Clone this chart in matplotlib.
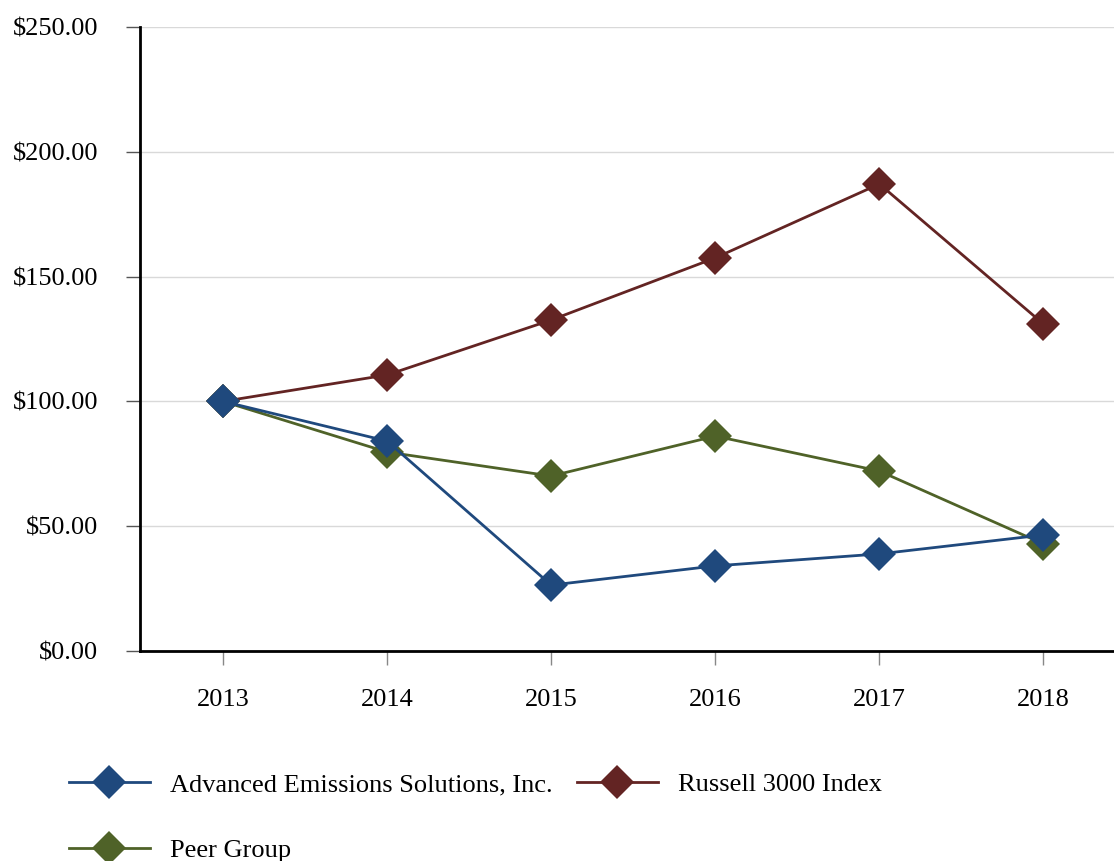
import matplotlib.pyplot as plt
import numpy as np

plt.rcParams['font.family'] = ['Liberation Serif', 'DejaVu Serif']

years = ['2013', '2014', '2015', '2016', '2017', '2018']
ades = [100.0, 84.1, 26.4, 34.1, 38.9, 46.5]
russell = [100.0, 110.6, 132.6, 157.5, 187.1, 131.0]
peer = [100.0, 79.7, 70.1, 86.1, 72.1, 42.9]

names = ['Advanced Emissions Solutions, Inc.', 'Russell 3000 Index', 'Peer Group']
colors = ['#1F497D', '#632423', '#4F6228']

fig = plt.figure(figsize=(11.14, 8.61), dpi=100)
ax = fig.add_axes([140 / 1114, 1 - 651 / 861, (1114 - 140) / 1114, 624 / 861])

x = np.arange(len(years))
h1, = ax.plot(x, ades, color=colors[0], lw=2, marker='D', ms=17, mew=0, zorder=5, label=names[0])
h2, = ax.plot(x, russell, color=colors[1], lw=2, marker='D', ms=17, mew=0, zorder=3, label=names[1])
h3, = ax.plot(x, peer, color=colors[2], lw=2, marker='D', ms=17, mew=0, zorder=4, label=names[2])

ax.set_xlim(-0.506, 5.43)
ax.set_ylim(0, 250)
ax.set_xticks(x)
ax.set_xticklabels(years)
yt = np.arange(0, 251, 50)
ax.set_yticks(yt)
ax.set_yticklabels(['$%.2f' % v for v in yt])
ax.grid(axis='y', color='#D9D9D9', lw=1)
ax.set_axisbelow(True)

for s in ['top', 'right']:
    ax.spines[s].set_visible(False)
for s in ['left', 'bottom']:
    ax.spines[s].set_color('black')
    ax.spines[s].set_linewidth(2)
    ax.spines[s].set_zorder(6)

ax.tick_params(axis='y', length=10, width=1, color='#555555', pad=20, labelsize=19)
ax.tick_params(axis='x', length=10, width=1, color='#888888', pad=17, labelsize=19)

# legend fills column-wise, so order handles to get ADES, Russell on row 1
fig.legend(handles=[h1, h3, h2], loc='upper left', bbox_to_anchor=(58 / 1114, 1 - 762 / 861),
           ncol=2, frameon=False, fontsize=19, handlelength=3.1, handletextpad=0.75,
           columnspacing=0.9, labelspacing=1.62, borderaxespad=0)

plt.savefig('out.png')
